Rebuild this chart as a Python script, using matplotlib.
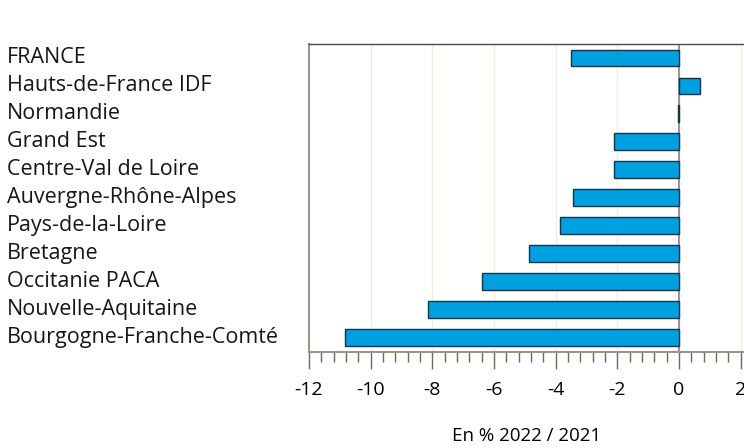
import numpy as np
import matplotlib.pyplot as plt
from matplotlib import transforms
from matplotlib.ticker import MultipleLocator

# regions and their change in % 2022 / 2021
regions = ['FRANCE', 'Hauts-de-France IDF', 'Normandie', 'Grand Est',
           'Centre-Val de Loire', 'Auvergne-Rhône-Alpes', 'Pays-de-la-Loire',
           'Bretagne', 'Occitanie PACA', 'Nouvelle-Aquitaine',
           'Bourgogne-Franche-Comté']
values = [-3.5, 0.68, -0.03, -2.1, -2.1, -3.44, -3.86, -4.87, -6.4, -8.13, -10.82]
xticks = [-12, -10, -8, -6, -4, -2, 0, 2]

plt.rcParams['font.family'] = ['Open Sans', 'DejaVu Sans']

fig = plt.figure(figsize=(7.44, 4.48), dpi=100)
ax = fig.add_axes([309/744, 1 - 352/448, 1 - 309/744, (352 - 44)/448])

y = np.arange(len(regions))
ax.axvline(0, color='#9a968a', linewidth=1.5, zorder=2)
ax.barh(y, values, height=0.6, color='#009fe0', edgecolor='#14344a', linewidth=1, zorder=3)

ax.set_xlim(-12, 2.11)
ax.set_ylim(len(regions) - 0.47, -0.5)
ax.set_xticks(xticks)
ax.set_xticklabels([str(t) for t in xticks], fontsize=14)
ax.xaxis.set_minor_locator(MultipleLocator(0.4))
ax.tick_params(axis='x', which='major', length=12, width=1, color='#6e6a5e', pad=9, direction='out')
ax.tick_params(axis='x', which='minor', length=7, width=1, color='#6e6a5e', direction='out')
ax.set_yticks([])
ax.grid(axis='x', which='major', color='#efeddf', linewidth=1, zorder=0)

for s in ['left', 'bottom']:
    ax.spines[s].set_color('#9a968a')
    ax.spines[s].set_linewidth(1.5)
ax.spines['top'].set_color('#4e4a3c')
ax.spines['top'].set_linewidth(1)
ax.spines['right'].set_visible(False)

# region labels on the left, aligned with the bars
trans = transforms.blended_transform_factory(fig.transFigure, ax.transData)
for yi, name in zip(y, regions):
    ax.text(7/744, yi, name, transform=trans, ha='left', va='center', fontsize=15.5, color='#161616')

fig.text(527/744, 1 - 436/448, 'En % 2022 / 2021', ha='center', va='center', fontsize=13.5)

fig.savefig('out.png', dpi=100)
